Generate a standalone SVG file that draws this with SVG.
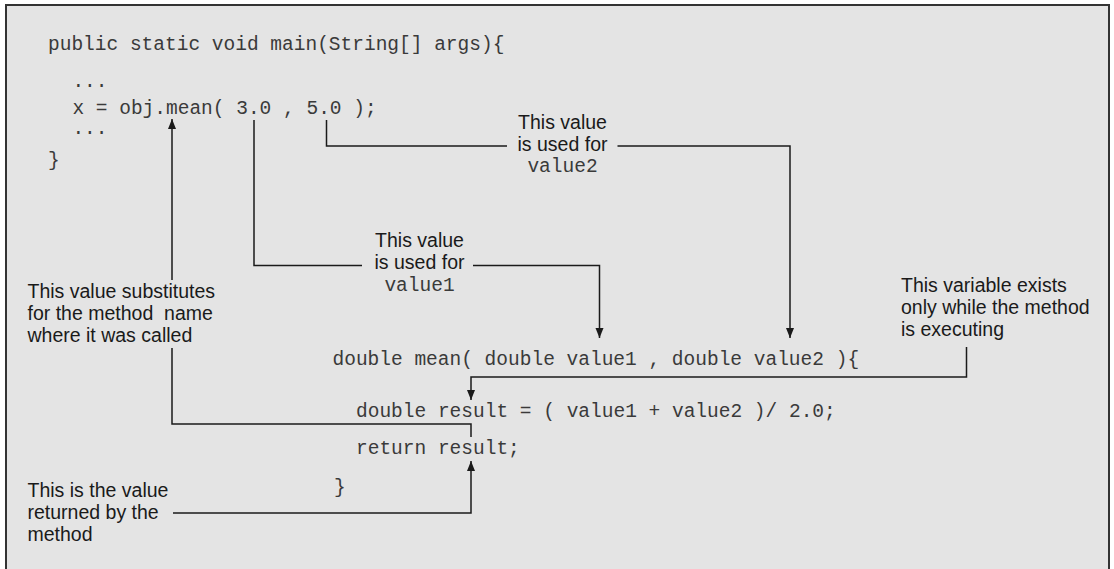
<svg xmlns="http://www.w3.org/2000/svg" width="1114" height="569" viewBox="0 0 1114 569">
<defs>
<style>
.code{font-family:"Liberation Mono","Courier New",monospace;font-size:19.5px;fill:#3a3a3a;white-space:pre}
.note{font-family:"Liberation Sans",Arial,sans-serif;font-size:19.5px;fill:#1a1a1a}
.c{fill:none;stroke:#1a1a1a;stroke-width:1.5}
</style>
<marker id="ah" markerUnits="userSpaceOnUse" markerWidth="10" markerHeight="10" viewBox="0 0 10 8" refX="10" refY="4" orient="auto">
<path d="M0,0 L10,4 L0,8 z" fill="#1a1a1a"/>
</marker>
</defs>
<rect x="0" y="0" width="1114" height="569" fill="#ffffff"/>
<rect id="frame" x="6" y="5" width="1103" height="590" fill="#e4e4e4" stroke="#333" stroke-width="2"/>

<g id="code-main">
<text class="code" x="48" y="50">public static void main(String[] args){</text>
<text class="code" x="72.4" y="87">...</text>
<text class="code" x="72.4" y="114">x = obj.mean( 3.0 , 5.0 );</text>
<text class="code" x="72.4" y="134">...</text>
<text class="code" x="48" y="166">}</text>
</g>

<g id="code-mean">
<text class="code" x="332.5" y="365">double mean( double value1 , double value2 ){</text>
<text class="code" x="356" y="417">double result = ( value1 + value2 )/ 2.0;</text>
<text class="code" x="356" y="454">return result;</text>
<text class="code" x="334" y="493">}</text>
</g>

<g id="note-value2">
<text class="note" x="562.5" y="129" text-anchor="middle">This value</text>
<text class="note" x="562.5" y="151" text-anchor="middle">is used for</text>
<text class="code" x="562.5" y="172" text-anchor="middle">value2</text>
</g>

<g id="note-value1">
<text class="note" x="419.5" y="247" text-anchor="middle">This value</text>
<text class="note" x="419.5" y="269" text-anchor="middle">is used for</text>
<text class="code" x="419.5" y="291" text-anchor="middle">value1</text>
</g>

<g id="note-substitutes">
<text class="note" x="27.5" y="298">This value substitutes</text>
<text class="note" x="27.5" y="320" xml:space="preserve">for the method  name</text>
<text class="note" x="27.5" y="342">where it was called</text>
</g>

<g id="note-returned">
<text class="note" x="27.5" y="497">This is the value</text>
<text class="note" x="27.5" y="519">returned by the</text>
<text class="note" x="27.5" y="541">method</text>
</g>

<g id="note-variable">
<text class="note" x="901" y="292">This variable exists</text>
<text class="note" x="901" y="314">only while the method</text>
<text class="note" x="901" y="336">is executing</text>
</g>

<g id="connectors">
<path class="c" d="M326.5,120 V146 H507"/>
<path class="c" d="M617.5,146 H790 V338" marker-end="url(#ah)"/>
<path class="c" d="M254,120 V265.5 H362"/>
<path class="c" d="M473,265.5 H599.5 V338" marker-end="url(#ah)"/>
<path class="c" d="M966.5,347 V377 H471 V400" marker-end="url(#ah)"/>
<path class="c" d="M471,437 V424 H172 V348"/>
<path class="c" d="M172,280 V119" marker-end="url(#ah)"/>
<path class="c" d="M173,513 H471 V461" marker-end="url(#ah)"/>
</g>
</svg>
